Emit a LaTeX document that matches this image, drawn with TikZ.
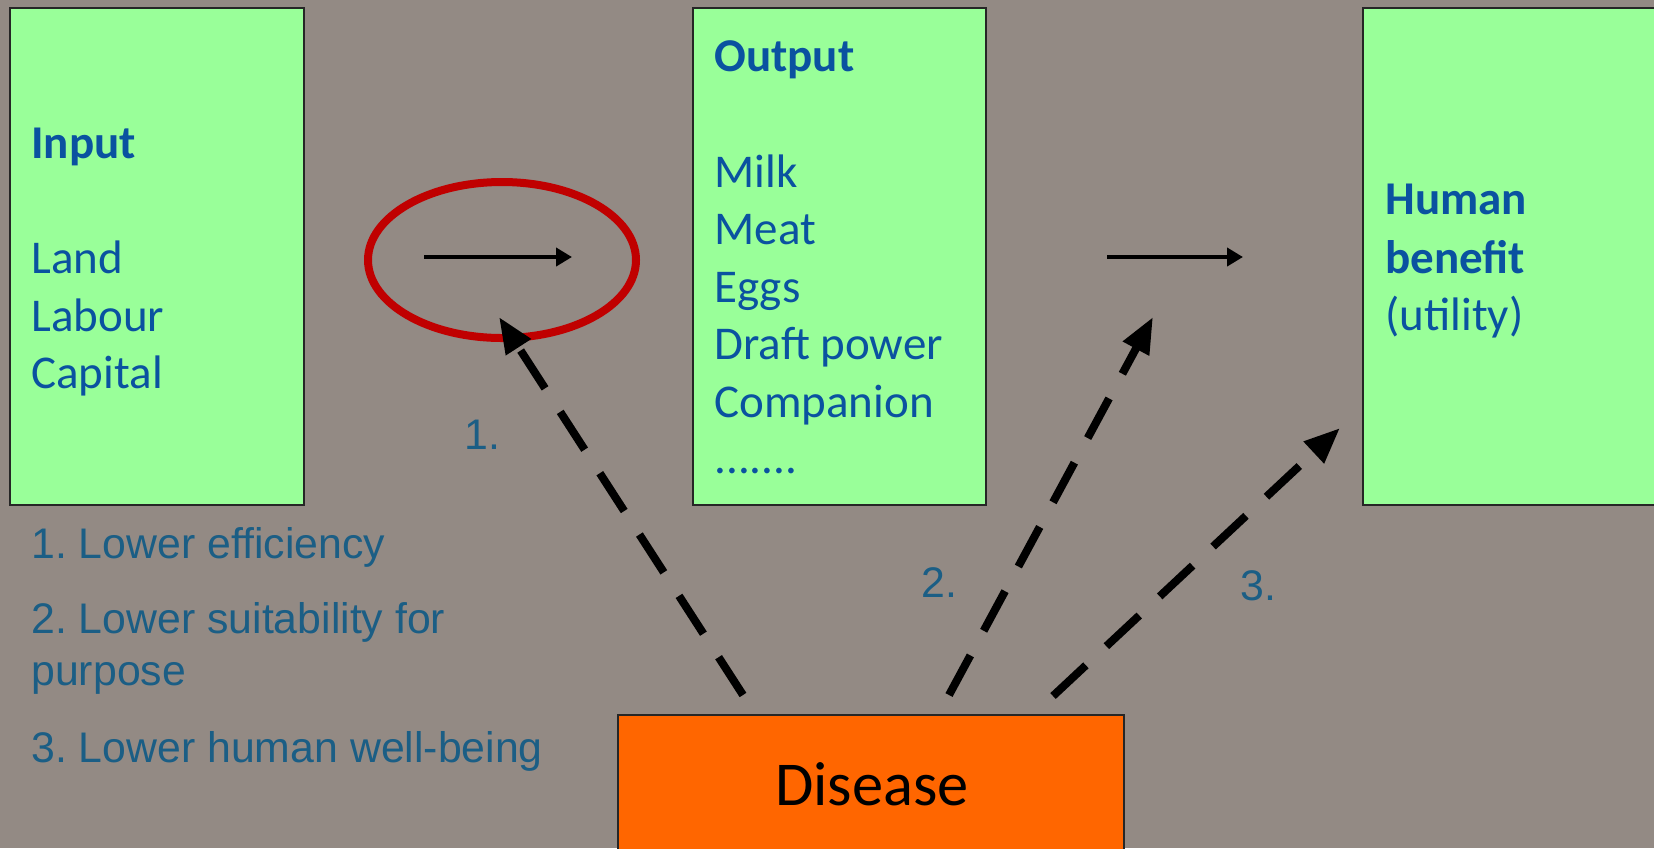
\documentclass[tikz,border=0pt]{standalone}
\usepackage{fontspec}
\setmainfont{Carlito}
\newfontfamily\legendfont{Liberation Sans}
\usetikzlibrary{arrows.meta}
\definecolor{bgcol}{HTML}{938A84}
\definecolor{boxgreen}{HTML}{99FF99}
\definecolor{diseaseorange}{HTML}{FF6600}
\definecolor{ringred}{HTML}{C00000}
\definecolor{boxblue}{HTML}{0A52A0}
\definecolor{legteal}{HTML}{1B5E85}
\frenchspacing
\tikzset{
  greenbox/.style={draw=black!85, line width=1pt, fill=boxgreen, inner sep=0pt},
  orangebox/.style={draw=black!85, line width=1pt, fill=diseaseorange, inner sep=0pt},
  boxtext/.style={anchor=base west, inner sep=0pt, text=boxblue, font=\fontsize{23.5}{28}\selectfont},
  boxtitle/.style={boxtext, font=\fontsize{23.5}{28}\selectfont\bfseries},
  legtext/.style={anchor=base west, inner sep=0pt, text=legteal, font=\legendfont\fontsize{21.4}{25}\selectfont},
  flowarrow/.style={line width=2pt, -{Triangle[length=8pt,width=9pt]}},
  effectarrow/.style={line width=4pt, dash pattern=on 22.5pt off 14pt, -{Triangle[length=18pt,width=14pt]}},
}
\begin{document}
\begin{tikzpicture}[x=0.5pt,y=-0.5pt]
\useasboundingbox (0,0) rectangle (1654,848);
\fill[bgcol] (0,0) rectangle (1654,848);
% boxes
\node[greenbox, minimum width=147pt, minimum height=248.5pt] (input) at (157,256.5) {};
\node[greenbox, minimum width=146.5pt, minimum height=248.5pt] (output) at (839.5,256.5) {};
\node[greenbox, minimum width=150pt, minimum height=248.5pt] (benefit) at (1513,256.5) {};
\node[orangebox, minimum width=253pt, minimum height=75pt] (disease) at (871,790) {};
% input text
\node[boxtitle] (tin) at (31,158) {Input};
\node[boxtext] (tland) at (31,273) {Land};
\node[boxtext] (tlab) at (31,331) {Labour};
\node[boxtext] (tcap) at (31,388) {Capital};
% output text
\node[boxtitle] (tout) at (714,71) {Output};
\node[boxtext] (tmilk) at (714,187) {Milk};
\node[boxtext] (tmeat) at (714,244) {Meat};
\node[boxtext] (teggs) at (714,302) {Eggs};
\node[boxtext] (tdraft) at (714,359) {Draft power};
\node[boxtext] (tcomp) at (714,417) {Companion};
\node[boxtext] (tdots) at (714,473) {.......};
% benefit text
\node[boxtitle] (thum) at (1385,214) {Human};
\node[boxtitle] (tben) at (1385,273) {benefit};
\node[boxtext] (tutil) at (1385,330) {(utility)};
% disease text
\node[anchor=base, inner sep=0pt, font=\fontsize{31.2}{36}\selectfont, text=black] (tdis) at (872,805) {Disease};
% legend
\node[legtext] (l1) at (31,558) {1. Lower efficiency};
\node[legtext] (l2) at (31,633) {2. Lower suitability for};
\node[legtext] (l2b) at (31,685) {purpose};
\node[legtext] (l3) at (31,762) {3. Lower human well-being};
% arrow labels
\node[legtext] (n1) at (464,449) {1.};
\node[legtext] (n2) at (921,597) {2.};
\node[legtext] (n3) at (1240,600) {3.};
% flow arrows
\coordinate (a1s) at (424,257);
\coordinate (a1e) at (572,257);
\coordinate (a2s) at (1107,257);
\coordinate (a2e) at (1243,257);
\draw[flowarrow] (a1s) -- (a1e);
\draw[flowarrow] (a2s) -- (a2e);
% red ring
\coordinate (ring) at (502,260);
\draw[ringred, line width=4pt] (ring) ellipse [x radius=67pt, y radius=39pt];
% effect arrows
\coordinate (d1) at (743,695);
\coordinate (d2) at (949,695);
\coordinate (d3) at (1053,696);
\coordinate (t1) at (499,317);
\coordinate (t2) at (1153,317);
\coordinate (t3) at (1340,428);
\draw[effectarrow] (d1) -- (t1);
\draw[effectarrow] (d2) -- (t2);
\draw[effectarrow] (d3) -- (t3);
\end{tikzpicture}
\end{document}
